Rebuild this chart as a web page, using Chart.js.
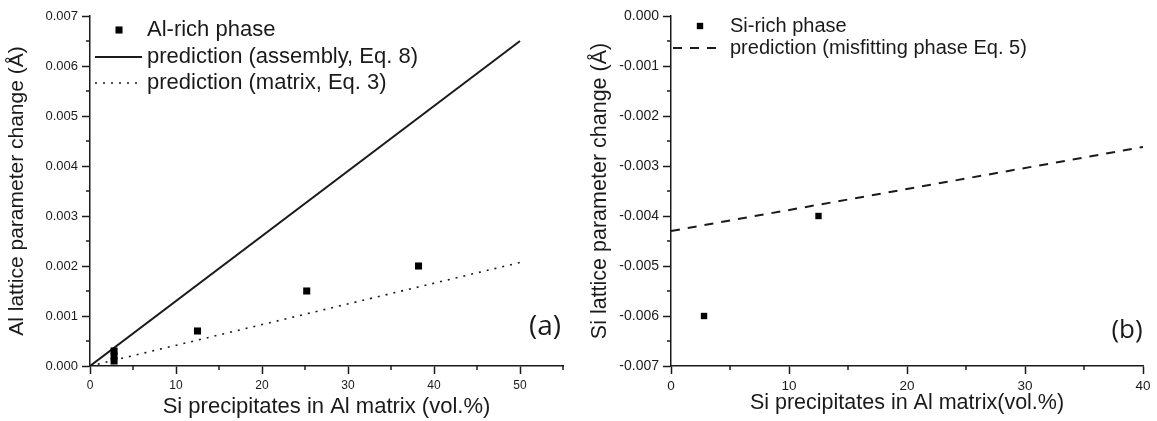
<!DOCTYPE html>
<html>
<head>
<meta charset="utf-8">
<script src="https://cdn.jsdelivr.net/npm/chart.js@4/dist/chart.umd.min.js"></script>
<style>
  html, body { margin: 0; padding: 0; background: #fff; }
  #wrap { position: relative; width: 1157px; height: 421px; }
  .box { position: absolute; top: 0; height: 421px; }
  #boxA { left: 0; width: 580px; }
  #boxB { left: 580px; width: 577px; }
</style>
</head>
<body>
<div id="wrap">
  <div class="box" id="boxA"><canvas id="chartA" width="580" height="421"></canvas></div>
  <div class="box" id="boxB"><canvas id="chartB" width="577" height="421"></canvas></div>
</div>
<script>
// panel (a): Al-rich phase
const alX = [2.8, 2.8, 2.8, 12.5, 25.2, 38.2];
const alY = [0.0001, 0.0002, 0.0003, 0.0007, 0.0015, 0.0020];
const assemblyX = [0, 50];
const assemblyY = [0, 0.0065];
const matrixX = [0, 50];
const matrixY = [0, 0.00207];

// panel (b): Si-rich phase
const siX = [2.8, 12.5];
const siY = [-0.0060, -0.0040];
const misfitX = [0, 40];
const misfitY = [-0.0043, -0.00262];

const FONT = "'Liberation Sans', Arial, sans-serif";
const INK = '#1a1a1a';

function pts (xs, ys) {
  return xs.map((x, i) => ({x: x, y: ys[i]}));
}

// minor ticks, in-plot legend and the (a)/(b) tag
const extras = {
  id: 'extras',
  afterDraw (chart, args, opts) {
    const ctx = chart.ctx;
    ctx.save();
    ctx.strokeStyle = INK;
    ctx.lineWidth = 1.5;
    ['x', 'y'].forEach(id => {
      const s = chart.scales[id];
      const step = opts.minor[id];
      const k0 = Math.ceil(s.min / step - 1e-9);
      const k1 = Math.floor(s.max / step + 1e-9);
      for (let k = k0; k <= k1; k++) {
        if (k % 2 === 0) continue;
        const p = s.getPixelForValue(k * step);
        ctx.beginPath();
        if (id === 'x') {
          ctx.moveTo(p, s.top);
          ctx.lineTo(p, s.top + 4);
        } else {
          ctx.moveTo(s.right - 4, p);
          ctx.lineTo(s.right, p);
        }
        ctx.stroke();
      }
    });

    const lg = opts.legend;
    ctx.font = lg.size + 'px ' + FONT;
    ctx.textBaseline = 'middle';
    ctx.textAlign = 'left';
    chart.data.datasets.forEach((ds, i) => {
      const y = lg.rows[i];
      if (ds.showLine) {
        ctx.save();
        ctx.strokeStyle = ds.borderColor;
        ctx.lineWidth = ds.borderWidth;
        ctx.setLineDash(ds.borderDash || []);
        ctx.beginPath();
        ctx.moveTo(lg.x0, y);
        ctx.lineTo(lg.x1, y);
        ctx.stroke();
        ctx.restore();
      } else {
        ctx.fillStyle = ds.backgroundColor;
        Chart.helpers.drawPoint(ctx, {pointStyle: 'rect', radius: ds.pointRadius, borderWidth: 0}, lg.mx, y);
      }
      ctx.fillStyle = INK;
      ctx.fillText(ds.label, lg.tx, y);
    });

    const tag = opts.tag;
    ctx.font = tag.size + "px 'Open Sans', sans-serif";
    ctx.textAlign = 'center';
    ctx.fillStyle = INK;
    ctx.fillText(tag.text, tag.x, tag.y);
    ctx.restore();
  }
};

function axis (min, max, step, size, fixed, title, titleSize, titlePad, fmt) {
  return {
    type: 'linear',
    min: min,
    max: max,
    afterFit: fixed,
    border: {color: INK, width: 1.5},
    grid: {drawOnChartArea: false, tickLength: 8, tickColor: INK, tickWidth: 1.5},
    ticks: {
      stepSize: step,
      includeBounds: false,
      autoSkip: false,
      maxRotation: 0,
      color: INK,
      padding: 4,
      font: {family: FONT, size: size},
      callback: fmt
    },
    title: {
      display: true,
      text: title,
      color: INK,
      font: {family: FONT, size: titleSize},
      padding: titlePad
    }
  };
}

const chartA = new Chart(document.getElementById('chartA'), {
  type: 'scatter',
  data: {
    datasets: [{
      label: 'Al-rich phase',
      data: pts(alX, alY),
      pointStyle: 'rect',
      pointRadius: 5,
      backgroundColor: '#000',
      borderWidth: 0
    }, {
      label: 'prediction (assembly, Eq. 8)',
      data: pts(assemblyX, assemblyY),
      showLine: true,
      pointRadius: 0,
      borderColor: INK,
      borderWidth: 2
    }, {
      label: 'prediction (matrix, Eq. 3)',
      data: pts(matrixX, matrixY),
      showLine: true,
      pointRadius: 0,
      borderColor: INK,
      borderWidth: 1.6,
      borderDash: [2, 6]
    }]
  },
  options: {
    responsive: false,
    animation: false,
    layout: {padding: {left: 0, top: 16, right: 17, bottom: 0}},
    plugins: {
      legend: {display: false},
      tooltip: {enabled: false},
      extras: {
        minor: {x: 5, y: 0.0005},
        legend: {x0: 95, x1: 142, mx: 119, tx: 147, rows: [30, 57, 83], size: 22},
        tag: {text: '(a)', x: 545, y: 327, size: 28}
      }
    },
    scales: {
      x: axis(0, 55, 10, 12, s => { s.height = 55; }, 'Si precipitates in Al matrix (vol.%)', 22, {top: 0, bottom: 1}),
      y: axis(0, 0.007, 0.001, 13, s => { s.width = 90; }, 'Al lattice parameter change (Å)', 21, {top: 5, bottom: 0}, v => v.toFixed(3))
    }
  },
  plugins: [extras]
});

const chartB = new Chart(document.getElementById('chartB'), {
  type: 'scatter',
  data: {
    datasets: [{
      label: 'Si-rich phase',
      data: pts(siX, siY),
      pointStyle: 'rect',
      pointRadius: 4.5,
      backgroundColor: '#000',
      borderWidth: 0
    }, {
      label: 'prediction (misfitting phase Eq. 5)',
      data: pts(misfitX, misfitY),
      showLine: true,
      pointRadius: 0,
      borderColor: INK,
      borderWidth: 2,
      borderDash: [9, 8]
    }]
  },
  options: {
    responsive: false,
    animation: false,
    layout: {padding: {left: 0, top: 16, right: 14, bottom: 0}},
    plugins: {
      legend: {display: false},
      tooltip: {enabled: false},
      extras: {
        minor: {x: 5, y: 0.0005},
        legend: {x0: 93, x1: 140, mx: 120, tx: 150, rows: [26, 48], size: 20},
        tag: {text: '(b)', x: 547, y: 331, size: 26}
      }
    },
    scales: {
      x: axis(0, 40, 10, 13.5, s => { s.height = 55; }, 'Si precipitates in Al matrix(vol.%)', 21.5, {top: 0, bottom: 5}),
      y: axis(-0.007, 0, 0.001, 14, s => { s.width = 91; }, 'Si lattice parameter change (Å)', 21.5, {top: 7, bottom: 0}, v => v.toFixed(3))
    }
  },
  plugins: [extras]
});
</script>
</body>
</html>
